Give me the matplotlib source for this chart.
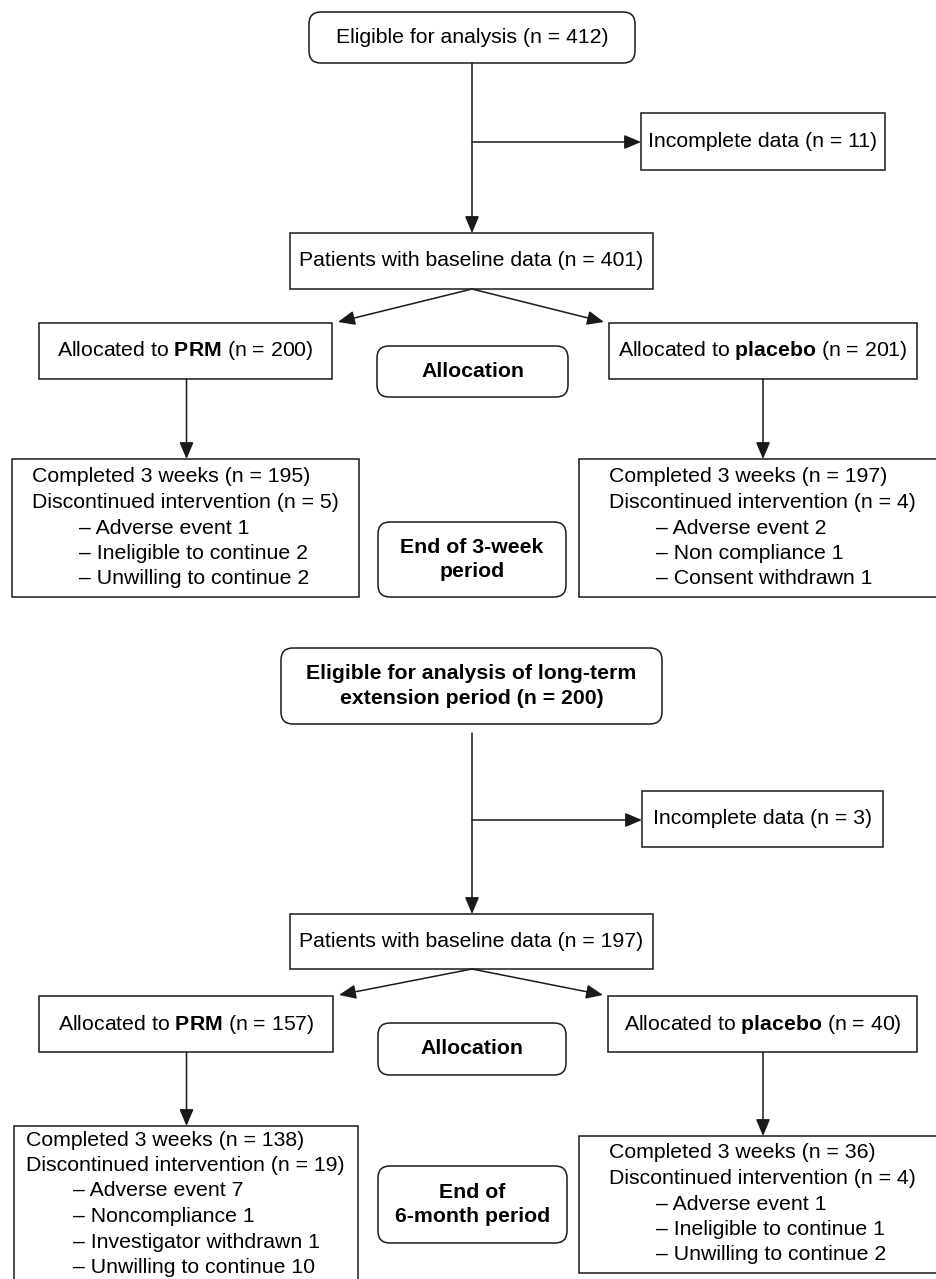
import matplotlib
matplotlib.use("Agg")
import matplotlib.pyplot as plt
from matplotlib.patches import FancyBboxPatch, Rectangle, FancyArrowPatch

plt.rcParams['font.family'] = ['Liberation Sans', 'DejaVu Sans']
plt.rcParams['mathtext.fontset'] = 'custom'
plt.rcParams['mathtext.rm'] = 'Liberation Sans'
plt.rcParams['mathtext.bf'] = 'Liberation Sans:bold'

# ---- data (two study periods) ----
eligible_labels = ["Eligible for analysis (n = {})",
                   "Eligible for analysis of long-term\nextension period (n = {})"]
eligible_n = [412, 200]
incomplete_n = [11, 3]
baseline_n = [401, 197]
prm_n = [200, 157]
placebo_n = [201, 40]
completed_prm = [195, 138]
discont_prm = [5, 19]
completed_pla = [197, 36]
discont_pla = [4, 4]
reasons_prm = [["Adverse event 1", "Ineligible to continue 2", "Unwilling to continue 2"],
               ["Adverse event 7", "Noncompliance 1", "Investigator withdrawn 1",
                "Unwilling to continue 10"]]
reasons_pla = [["Adverse event 2", "Non compliance 1", "Consent withdrawn 1"],
               ["Adverse event 1", "Ineligible to continue 1", "Unwilling to continue 2"]]
period_labels = ["End of 3-week\nperiod", "End of\n6-month period"]

# ---- layout (pixel coords, y down) ----
W, H = 937, 1279
FS = 15.3
LW = 1.1
LINE = 25.5
CX = 472

# per section: box geometry (x0, y0, x1, y1)
layout = [
    dict(top=(309, 12, 635, 63), top_gap=0, branch_y=142,
         inc=(641, 113, 885, 170), base=(290, 233, 653, 289),
         prm=(39, 323, 332, 379), pla=(609, 323, 917, 379),
         alloc=(377, 346, 568, 397),
         res_l=(12, 459, 359, 597), res_r=(579, 459, 945, 597),
         period=(378, 522, 566, 597),
         first_l=477, first_r=477, text_l=32, text_r=609),
    dict(top=(281, 648, 662, 724), top_gap=9, branch_y=820,
         inc=(642, 791, 883, 847), base=(290, 914, 653, 969),
         prm=(39, 996, 333, 1052), pla=(608, 996, 917, 1052),
         alloc=(378, 1023, 566, 1075),
         res_l=(14, 1126, 358, 1290), res_r=(579, 1136, 945, 1273),
         period=(378, 1166, 567, 1243),
         first_l=1140, first_r=1153, text_l=26, text_r=609),
]
PRM_X = 186.5
PLA_X = 763

fig = plt.figure(figsize=(W / 100, H / 100), dpi=100)
ax = fig.add_axes([0, 0, 1, 1])
ax.set_xlim(0, W)
ax.set_ylim(H, 0)
ax.axis('off')


def box(b, rounded=False):
    x0, y0, x1, y1 = b
    if rounded:
        p = FancyBboxPatch((x0, y0), x1 - x0, y1 - y0,
                           boxstyle="round,pad=0,rounding_size=12",
                           fc='white', ec='#1a1a1a', lw=LW)
    else:
        p = Rectangle((x0, y0), x1 - x0, y1 - y0, fc='white', ec='#1a1a1a', lw=LW)
    ax.add_patch(p)


def center(b):
    return (b[0] + b[2]) / 2, (b[1] + b[3]) / 2


def arrow(p0, p1):
    a = FancyArrowPatch(p0, p1, arrowstyle='-|>,head_length=0.85,head_width=0.36',
                        mutation_scale=12, shrinkA=0, shrinkB=0,
                        color='#1a1a1a', lw=LW)
    ax.add_patch(a)


for i, L in enumerate(layout):
    # top box
    box(L['top'], rounded=True)
    cx, cy = center(L['top'])
    ax.text(cx, cy, eligible_labels[i].format(eligible_n[i]), ha='center', va='center',
            fontsize=FS, fontweight='bold' if i == 1 else 'normal', linespacing=1.35)

    # trunk with branch to incomplete data
    arrow((CX, L['top'][3] + L['top_gap']), (CX, L['base'][1]))
    arrow((CX, L['branch_y']), (L['inc'][0], L['branch_y']))
    box(L['inc'])
    cx, cy = center(L['inc'])
    ax.text(cx, cy, "Incomplete data (n = {})".format(incomplete_n[i]),
            ha='center', va='center', fontsize=FS)

    # baseline
    box(L['base'])
    cx, cy = center(L['base'])
    ax.text(cx, cy, "Patients with baseline data (n = {})".format(baseline_n[i]),
            ha='center', va='center', fontsize=FS)

    # split arrows
    arrow((CX, L['base'][3]), (L['prm'][2] + 6, L['prm'][1] - 1))
    arrow((CX, L['base'][3]), (L['pla'][0] - 5, L['pla'][1] - 1))

    # allocation boxes
    box(L['prm'])
    cx, cy = center(L['prm'])
    ax.text(cx, cy, r"Allocated to $\mathbf{PRM}$ (n = %d)" % prm_n[i],
            ha='center', va='center', fontsize=FS)
    box(L['pla'])
    cx, cy = center(L['pla'])
    ax.text(cx, cy, r"Allocated to $\mathbf{placebo}$ (n = %d)" % placebo_n[i],
            ha='center', va='center', fontsize=FS)
    box(L['alloc'], rounded=True)
    cx, cy = center(L['alloc'])
    ax.text(cx, cy, "Allocation", ha='center', va='center', fontsize=FS, fontweight='bold')

    # arrows down to results
    arrow((PRM_X, L['prm'][3]), (PRM_X, L['res_l'][1]))
    arrow((PLA_X, L['pla'][3]), (PLA_X, L['res_r'][1]))

    # result boxes
    for side, comp, disc, reasons in (('l', completed_prm[i], discont_prm[i], reasons_prm[i]),
                                      ('r', completed_pla[i], discont_pla[i], reasons_pla[i])):
        box(L['res_' + side])
        x = L['text_' + side]
        y = L['first_' + side]
        lines = ["Completed 3 weeks (n = {})".format(comp),
                 "Discontinued intervention (n = {})".format(disc)]
        for k, s in enumerate(lines):
            ax.text(x, y + k * LINE, s, ha='left', va='center', fontsize=FS)
        for k, s in enumerate(reasons):
            ax.text(x + 47, y + (k + 2) * LINE, "\u2013 " + s, ha='left', va='center', fontsize=FS)

    box(L['period'], rounded=True)
    cx, cy = center(L['period'])
    ax.text(cx, cy, period_labels[i], ha='center', va='center', fontsize=FS,
            fontweight='bold', linespacing=1.35)

fig.savefig('out.png', dpi=100, facecolor='white')
